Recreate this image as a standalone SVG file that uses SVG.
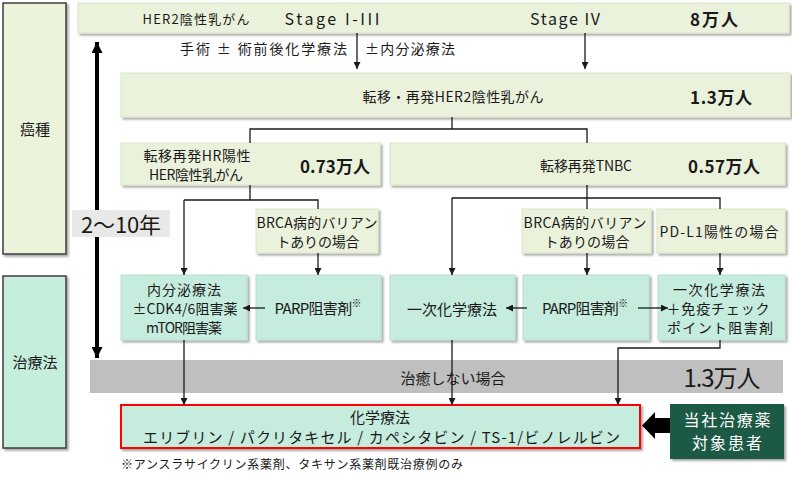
<svg xmlns="http://www.w3.org/2000/svg" width="792" height="477" viewBox="0 0 792 477">
<style>
text{font-family:"Noto Sans CJK JP","Noto Sans",sans-serif;fill:#1a1a1a;dominant-baseline:central}
.c{text-anchor:middle}
.pale{fill:#ebf2dc;stroke:#dbe6c6;stroke-width:1}
.mint{fill:#c6ecdd;stroke:#b3e0cc;stroke-width:1}
.side{stroke:#3c3c3c;stroke-width:1.5}
.sh{filter:url(#ds)}
.ln{fill:none;stroke:#1a1a1a;stroke-width:1.3}
.ar{fill:none;stroke:#1a1a1a;stroke-width:1.3;marker-end:url(#ah)}
.t13{font-size:13px}
.t14{font-size:14px}
.t15{font-size:15px}
.b{font-size:17px;font-weight:bold}
</style>
<defs>
<filter id="ds" x="-10%" y="-10%" width="120%" height="130%">
<feDropShadow dx="2" dy="2" stdDeviation="1.2" flood-color="#000" flood-opacity="0.35"/>
</filter>
<marker id="ah" viewBox="0 0 10 10" refX="10" refY="5" markerWidth="7" markerHeight="7" markerUnits="userSpaceOnUse" orient="auto">
<path d="M0,0 L10,5 L0,10 z" fill="#1a1a1a"/>
</marker>
<marker id="big" viewBox="0 0 10 10" refX="10" refY="5" markerWidth="11" markerHeight="11" markerUnits="userSpaceOnUse" orient="auto-start-reverse">
<path d="M0,0 L10,5 L0,10 z" fill="#000"/>
</marker>
</defs>

<g id="side-cancer"><rect class="side sh" x="3" y="3" width="63" height="251" fill="#ebf3da"/><text class="c t15" x="35" y="128">癌種</text></g>
<g id="side-treat"><rect class="side sh" x="3" y="276" width="63" height="172" fill="#c6eedd"/><text class="c t15" x="35" y="361">治療法</text></g>

<g id="band"><rect x="90" y="360" width="693" height="33" fill="#bfbfbf"/>
<text class="c t15" x="453" y="377" textLength="105" lengthAdjust="spacing">治癒しない場合</text>
<text class="c" x="722" y="376" style="font-size:24px" textLength="77" lengthAdjust="spacing">1.3万人</text></g>

<g id="timeline"><line x1="97" y1="42" x2="97" y2="358" stroke="#000" stroke-width="4" marker-start="url(#big)" marker-end="url(#big)"/>
<rect x="72" y="210" width="98" height="27" fill="#e8e8e6"/>
<text class="c" x="121" y="223" style="font-size:22px" textLength="80" lengthAdjust="spacing">2〜10年</text></g>

<g id="n-top"><rect class="pale sh" x="78" y="3" width="711" height="30"/>
<text class="c t13" x="196" y="18" textLength="107" lengthAdjust="spacing">HER2陰性乳がん</text>
<text class="c" x="332" y="18" style="font-size:16px" textLength="95" lengthAdjust="spacing">Stage I-III</text>
<text class="c" x="565" y="18" style="font-size:16px" textLength="70" lengthAdjust="spacing">Stage IV</text>
<text class="c b" x="714" y="18" textLength="48" lengthAdjust="spacing">8万人</text></g>

<g id="lbl-surgery"><text class="t14" x="347" y="48" text-anchor="end" textLength="167" lengthAdjust="spacing">手術 ± 術前後化学療法</text>
<text class="t14" x="365" y="48" textLength="90" lengthAdjust="spacing">±内分泌療法</text></g>

<g id="n-meta"><rect class="pale sh" x="121" y="73" width="669" height="44"/>
<text class="c t14" x="453" y="96" textLength="181" lengthAdjust="spacing">転移・再発HER2陰性乳がん</text>
<text class="c b" x="721" y="96" textLength="62" lengthAdjust="spacing">1.3万人</text></g>

<g id="n-hr"><rect class="pale sh" x="121" y="143" width="259" height="42"/>
<text class="c t14" x="197" y="155" textLength="107" lengthAdjust="spacing">転移再発HR陽性</text>
<text class="c t14" x="196" y="174" textLength="94" lengthAdjust="spacing">HER陰性乳がん</text>
<text class="c b" x="335" y="165" textLength="70" lengthAdjust="spacing">0.73万人</text></g>

<g id="n-tnbc"><rect class="pale sh" x="390" y="143" width="395" height="42"/>
<text class="c t14" x="586" y="165" textLength="92" lengthAdjust="spacing">転移再発TNBC</text>
<text class="c b" x="724" y="165" textLength="72" lengthAdjust="spacing">0.57万人</text></g>

<g id="n-brca1"><rect class="pale sh" x="256" y="209" width="122" height="44"/>
<text class="c t14" x="317" y="222" textLength="121" lengthAdjust="spacing">BRCA病的バリアン</text>
<text class="c t14" x="318" y="241" textLength="83" lengthAdjust="spacing">トありの場合</text></g>

<g id="n-brca2"><rect class="pale sh" x="522" y="209" width="129" height="44"/>
<text class="c t14" x="585" y="222" textLength="123" lengthAdjust="spacing">BRCA病的バリアン</text>
<text class="c t14" x="587" y="241" textLength="85" lengthAdjust="spacing">トありの場合</text></g>

<g id="n-pdl1"><rect class="pale sh" x="657" y="209" width="128" height="44"/>
<text class="c t14" x="719" y="231" textLength="119" lengthAdjust="spacing">PD-L1陽性の場合</text></g>

<g id="n-endo"><rect class="mint sh" x="121" y="275" width="126" height="65"/>
<text class="c t14" x="184" y="289" textLength="74" lengthAdjust="spacing">内分泌療法</text>
<text class="c t14" x="185" y="308" textLength="105" lengthAdjust="spacing">±CDK4/6阻害薬</text>
<text class="c t14" x="184" y="327" textLength="76" lengthAdjust="spacing">mTOR阻害薬</text></g>

<g id="n-parp1"><rect class="mint sh" x="256" y="275" width="125" height="65"/>
<text class="c t15" x="318" y="307" textLength="87" lengthAdjust="spacing">PARP阻害剤<tspan style="font-size:10px" dy="-5">※</tspan></text></g>

<g id="n-chemo1"><rect class="mint sh" x="390" y="275" width="125" height="65"/>
<text class="c t15" x="452" y="308" textLength="90" lengthAdjust="spacing">一次化学療法</text></g>

<g id="n-parp2"><rect class="mint sh" x="523" y="275" width="126" height="65"/>
<text class="c t15" x="585" y="307" textLength="86" lengthAdjust="spacing">PARP阻害剤<tspan style="font-size:10px" dy="-5">※</tspan></text></g>

<g id="n-ici"><rect class="mint sh" x="658" y="275" width="127" height="65"/>
<text class="c t14" x="719" y="289" textLength="92" lengthAdjust="spacing">一次化学療法</text>
<text class="c t14" x="718" y="308" textLength="103" lengthAdjust="spacing">＋免疫チェック</text>
<text class="c t14" x="720" y="327" textLength="106" lengthAdjust="spacing">ポイント阻害剤</text></g>

<g id="n-chemo"><rect class="sh" x="121" y="405" width="519" height="43" fill="#c6ecdd" stroke="#ff0000" stroke-width="2"/>
<text class="c t15" x="380" y="416">化学療法</text>
<text class="t15" x="143" y="436" textLength="477" lengthAdjust="spacing">エリブリン / パクリタキセル / カペシタビン / TS-1/ビノレルビン</text></g>

<g id="n-target"><rect class="sh" x="670" y="404" width="114" height="55" fill="#1e5a44"/>
<text class="c" x="727" y="419" style="font-size:16px;fill:#fff" textLength="87" lengthAdjust="spacing">当社治療薬</text>
<text class="c" x="727" y="442" style="font-size:16px;fill:#fff" textLength="70" lengthAdjust="spacing">対象患者</text></g>

<g id="note"><text x="121" y="463" style="font-size:12px" textLength="342" lengthAdjust="spacing">※アンスラサイクリン系薬剤、タキサン系薬剤既治療例のみ</text></g>

<g id="connectors">
<line class="ar" x1="357" y1="33" x2="357" y2="69"/>
<line class="ar" x1="585" y1="33" x2="585" y2="69"/>
<polyline class="ln" points="452,117 452,129"/>
<polyline class="ln" points="250,143 250,129 587,129 587,143"/>
<polyline class="ln" points="250,185 250,200"/>
<polyline class="ln" points="184,200 318,200 318,209"/>
<line class="ar" x1="184" y1="200" x2="184" y2="275"/>
<line class="ar" x1="318" y1="253" x2="318" y2="275"/>
<polyline class="ln" points="587,185 587,198"/>
<polyline class="ln" points="452,198 720,198 720,209"/>
<line class="ln" x1="587" y1="198" x2="587" y2="209"/>
<line class="ar" x1="452" y1="198" x2="452" y2="275"/>
<line class="ar" x1="587" y1="253" x2="587" y2="275"/>
<line class="ar" x1="720" y1="253" x2="720" y2="275"/>
<line class="ar" x1="265" y1="308" x2="243" y2="308"/>
<line class="ar" x1="527" y1="308" x2="506" y2="308"/>
<line class="ar" x1="638" y1="308" x2="668" y2="308"/>
<line class="ar" x1="184" y1="340" x2="184" y2="405"/>
<line class="ar" x1="452" y1="340" x2="452" y2="405"/>
<polyline class="ar" points="720,340 720,348 618,348 618,405"/>
<polygon points="642,425.5 655,412 655,418 670,418 670,433 655,433 655,439" fill="#000"/>
</g>
</svg>
